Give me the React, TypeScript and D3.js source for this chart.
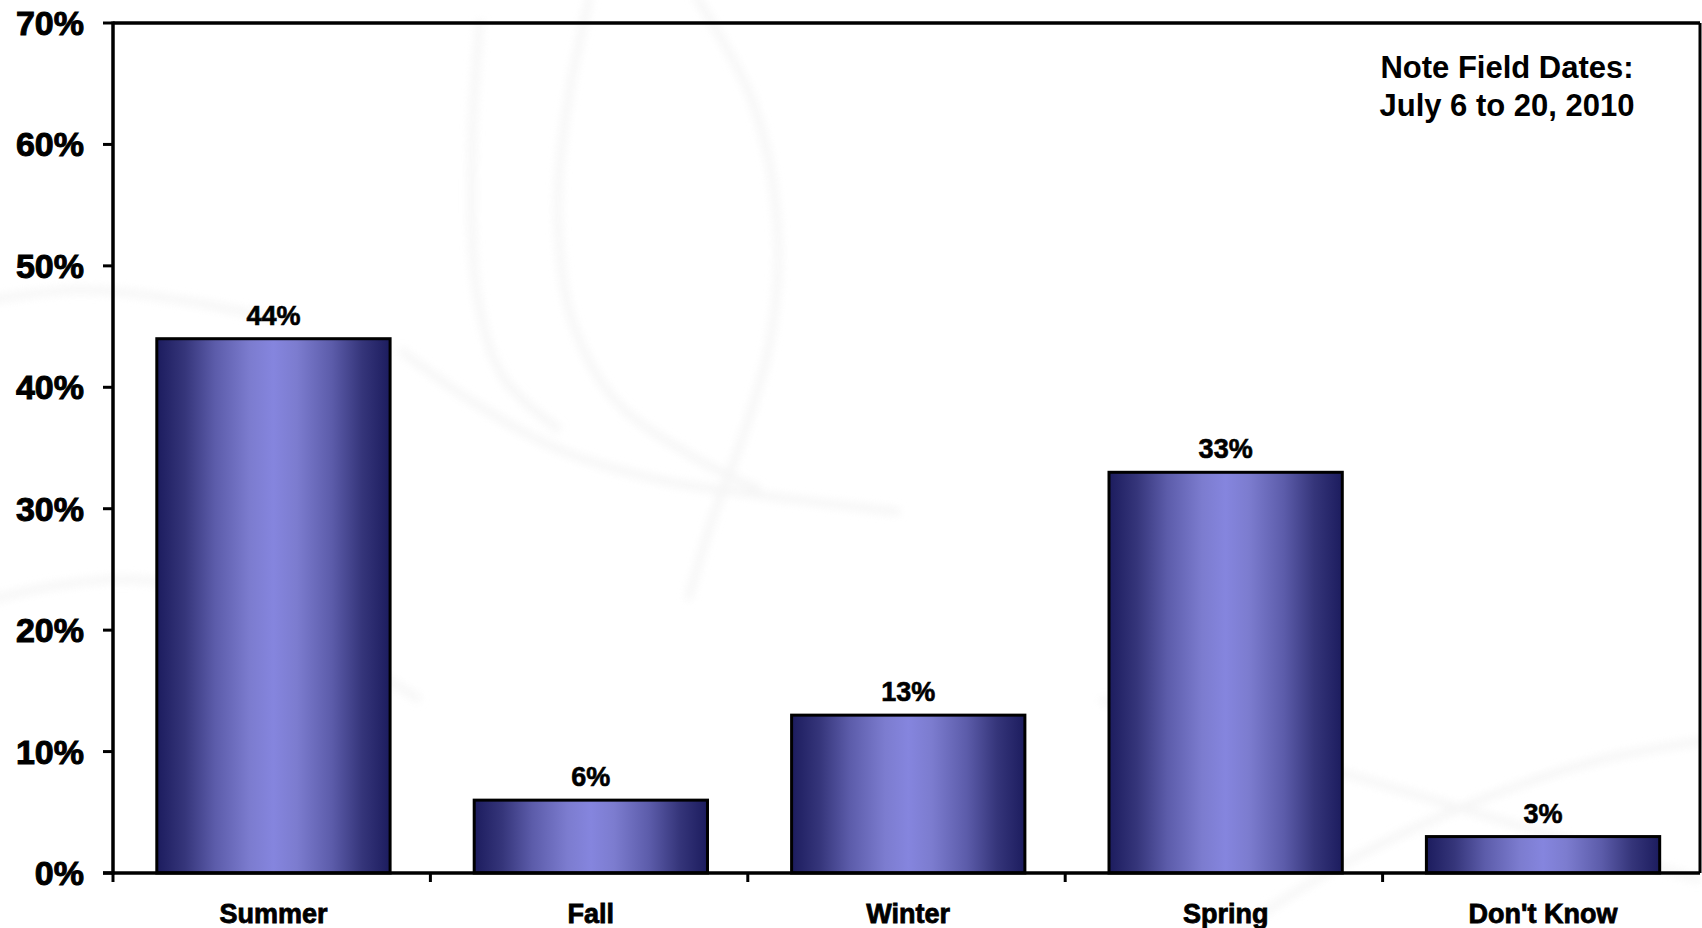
import React from "react";
import * as d3 from "d3";

const categories = ["Summer", "Fall", "Winter", "Spring", "Don't Know"];
const values = [44, 6, 13, 33, 3];
const yTicks = [0, 10, 20, 30, 40, 50, 60, 70];
const noteLines = ["Note Field Dates:", "July 6 to 20, 2010"];

const W = 1702;
const H = 928;
const plot = { left: 113, right: 1700, top: 23, bottom: 873 };

const FONT = "'Liberation Sans', Arial, Helvetica, sans-serif";

export default function App() {
  const x = d3
    .scaleBand<string>()
    .domain(categories)
    .range([plot.left, plot.right])
    .padding(0);
  const y = d3.scaleLinear().domain([0, 70]).range([plot.bottom, plot.top]);

  const bw = x.bandwidth();
  const barW = bw * 0.735;
  const barOffset = bw * 0.138;

  // faint decorative swirls in the slide background
  const swirl = d3.line<[number, number]>().curve(d3.curveCatmullRom.alpha(0.5));
  const bgPaths: [number, number][][] = [
    [[590, -5], [565, 120], [558, 220], [572, 320], [615, 400], [690, 455], [760, 490]],
    [[695, -5], [752, 100], [777, 220], [772, 330], [745, 430], [712, 520], [688, 600]],
    [[400, 350], [470, 400], [560, 450], [660, 480], [760, 495], [900, 512]],
    [[480, 20], [472, 150], [478, 300], [505, 380], [560, 430]],
    [[-10, 300], [80, 290], [180, 300], [280, 320]],
    [[-10, 600], [60, 585], [140, 580], [230, 600], [320, 640], [420, 700]],
    [[1240, 928], [1350, 860], [1480, 800], [1600, 760], [1710, 740]],
    [[1100, 700], [1300, 760], [1500, 820], [1700, 880]],
  ];

  return (
    <div style={{ position: "absolute", left: 0, top: 0 }}>
      <svg width={W} height={H} style={{ display: "block", background: "#ffffff" }}>
        <defs>
          <linearGradient id="barGrad" x1="0" x2="1" y1="0" y2="0">
            <stop offset="0" stopColor="#1c1c5e" />
            <stop offset="0.12" stopColor="#35357a" />
            <stop offset="0.25" stopColor="#5c5caa" />
            <stop offset="0.4" stopColor="#7c7ccf" />
            <stop offset="0.5" stopColor="#8585de" />
            <stop offset="0.6" stopColor="#7c7ccf" />
            <stop offset="0.75" stopColor="#5c5caa" />
            <stop offset="0.88" stopColor="#35357a" />
            <stop offset="1" stopColor="#1c1c5e" />
          </linearGradient>
          <filter id="soft" x="-10%" y="-10%" width="120%" height="120%">
            <feGaussianBlur stdDeviation="4" />
          </filter>
        </defs>

        <g filter="url(#soft)" fill="none" stroke="#f1f1f1" strokeWidth={7} opacity={0.7}>
          {bgPaths.map((p, i) => (
            <path key={i} d={swirl(p) || ""} />
          ))}
        </g>

        {/* plot frame */}
        <line x1={plot.left} x2={plot.right} y1={plot.top} y2={plot.top} stroke="#000" strokeWidth={3.5} />
        <line x1={plot.right} x2={plot.right} y1={plot.top} y2={plot.bottom} stroke="#000" strokeWidth={3} />

        {/* bars */}
        {categories.map((c, i) => {
          const x0 = (x(c) as number) + barOffset;
          const top = y(values[i]);
          return (
            <rect
              key={c}
              x={x0}
              y={top}
              width={barW}
              height={y(0) - top}
              fill="url(#barGrad)"
              stroke="#000"
              strokeWidth={3}
            />
          );
        })}

        {/* axes */}
        <line x1={plot.left} x2={plot.left} y1={plot.top - 1.5} y2={plot.bottom + 1.5} stroke="#000" strokeWidth={3.5} />
        <line x1={plot.left - 10} x2={plot.right} y1={plot.bottom} y2={plot.bottom} stroke="#000" strokeWidth={3.5} />

        {yTicks.map((t) => (
          <g key={t}>
            <line x1={plot.left - 10} x2={plot.left} y1={y(t)} y2={y(t)} stroke="#000" strokeWidth={3} />
            <text
              x={84}
              y={y(t) + 12}
              textAnchor="end"
              fontFamily={FONT}
              fontWeight="bold"
              fontSize={34}
              fill="#000"
              stroke="#000"
              strokeWidth={1}
            >
              {t}%
            </text>
          </g>
        ))}

        {/* category ticks at band edges */}
        {categories.map((c) => (
          <line
            key={c}
            x1={x(c) as number}
            x2={x(c) as number}
            y1={plot.bottom}
            y2={plot.bottom + 9}
            stroke="#000"
            strokeWidth={3}
          />
        ))}

        {categories.map((c) => (
          <text
            key={c}
            x={(x(c) as number) + barOffset + barW / 2}
            y={923}
            textAnchor="middle"
            fontFamily={FONT}
            fontWeight="bold"
            fontSize={27}
            fill="#000"
            stroke="#000"
            strokeWidth={0.8}
          >
            {c}
          </text>
        ))}

        {/* value labels */}
        {categories.map((c, i) => (
          <text
            key={c}
            x={(x(c) as number) + barOffset + barW / 2}
            y={y(values[i]) - 14}
            textAnchor="middle"
            fontFamily={FONT}
            fontWeight="bold"
            fontSize={27}
            fill="#000"
            stroke="#000"
            strokeWidth={0.6}
          >
            {values[i]}%
          </text>
        ))}

        {/* note */}
        {noteLines.map((line, i) => (
          <text
            key={i}
            x={1507}
            y={78 + i * 38}
            textAnchor="middle"
            fontFamily={FONT}
            fontWeight="bold"
            fontSize={31}
            fill="#000"
          >
            {line}
          </text>
        ))}
      </svg>
    </div>
  );
}
